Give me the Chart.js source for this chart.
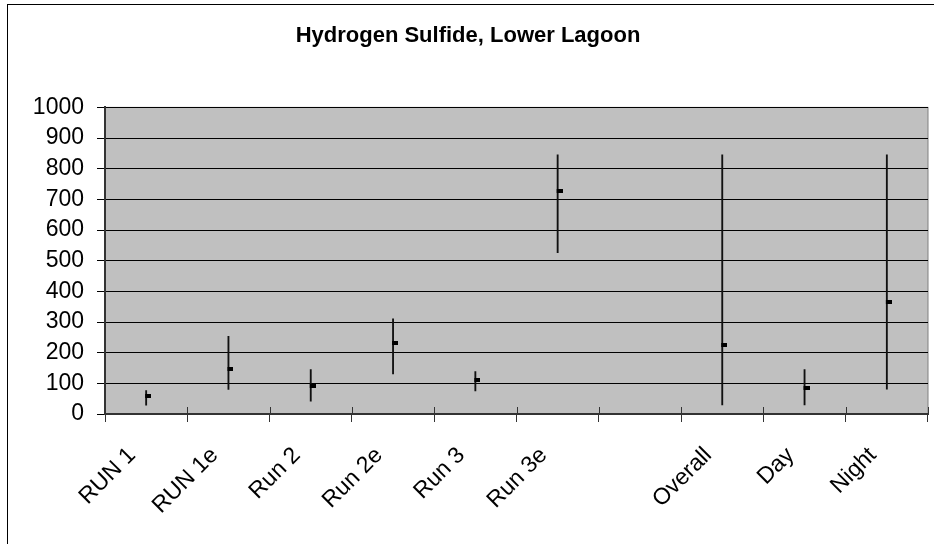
<!DOCTYPE html>
<html>
<head>
<meta charset="utf-8">
<script src="https://cdn.jsdelivr.net/npm/chart.js@4/dist/chart.umd.min.js"></script>
<style>
  html, body { margin: 0; padding: 0; background: #fff; }
  #wrap { width: 934px; height: 544px; position: relative; }
</style>
</head>
<body>
<div id="wrap"><canvas id="chart"></canvas></div>
<script>
// H2S readings per run: high, low and close
var categories = ["RUN 1", "RUN 1e", "Run 2", "Run 2e", "Run 3", "Run 3e", "", "Overall", "Day", "Night"];
var highValues = [76, 253, 145, 310, 138, 845, null, 845, 145, 845];
var lowValues = [29, 80, 42, 131, 75, 526, null, 30, 30, 81];
var closeValues = [60, 148, 92, 231, 110, 726, null, 225, 85, 364];
var yTicks = [0, 100, 200, 300, 400, 500, 600, 700, 800, 900, 1000];

var FONT = "'Liberation Sans', Arial, sans-serif";

var ranges = categories.map(function (c, i) {
    if (highValues[i] == null) return null;
    return [lowValues[i], highValues[i]];
});

// little close dash, sitting just right of the high-low line
var dash = document.createElement("canvas");
dash.width = 10;
dash.height = 4;
var dctx = dash.getContext("2d");
dctx.fillStyle = "#000";
dctx.fillRect(4, 0, 6, 4);

var plotFrame = {
    id: "plotFrame",
    beforeDraw: function (chart) {
        var ctx = chart.ctx, a = chart.chartArea;
        ctx.save();
        // outer chart border
        ctx.strokeStyle = "#000";
        ctx.lineWidth = 1;
        ctx.strokeRect(7.5, 4.5, 1000, 1000);
        // plot background
        ctx.fillStyle = "#c0c0c0";
        ctx.fillRect(a.left, a.top, a.right - a.left, a.bottom - a.top);
        ctx.strokeStyle = "#808080";
        ctx.strokeRect(a.left, a.top, a.right - a.left, a.bottom - a.top);
        ctx.restore();
    },
    afterDraw: function (chart) {
        // category tick marks also reach into the plot
        var ctx = chart.ctx, xs = chart.scales.x, a = chart.chartArea;
        var n = categories.length;
        ctx.save();
        ctx.strokeStyle = "#333";
        ctx.lineWidth = 1;
        for (var i = 0; i <= n; i++) {
            var x = Math.round(xs.left + i * (xs.width / n)) + 0.5;
            ctx.beginPath();
            ctx.moveTo(x, a.bottom - 7);
            ctx.lineTo(x, a.bottom);
            ctx.stroke();
        }
        ctx.restore();
    }
};

var config = {
    type: "bar",
    data: {
        labels: categories,
        datasets: [
            {
                label: "High-Low",
                data: ranges,
                backgroundColor: "#111",
                borderWidth: 0,
                barThickness: 1.2,
                grouped: false,
                order: 2
            },
            {
                type: "line",
                label: "Close",
                data: closeValues,
                showLine: false,
                pointStyle: dash,
                pointRadius: 4,
                order: 1
            }
        ]
    },
    options: {
        responsive: true,
        maintainAspectRatio: false,
        animation: false,
        layout: { padding: { left: 8, right: 6, top: 0, bottom: 0 } },
        plugins: {
            legend: { display: false },
            tooltip: { enabled: false },
            title: {
                display: true,
                text: "Hydrogen Sulfide, Lower Lagoon",
                color: "#000",
                font: { family: FONT, size: 22, weight: "bold" },
                padding: { top: 23, bottom: 58 }
            }
        },
        scales: {
            x: {
                offset: true,
                grid: {
                    offset: true,
                    drawOnChartArea: false,
                    color: "#333",
                    tickLength: 8
                },
                border: { color: "#333", width: 2 },
                ticks: {
                    color: "#000",
                    font: { family: FONT, size: 23 },
                    minRotation: 45,
                    maxRotation: 45,
                    padding: 20,
                    labelOffset: -14
                },
                afterFit: function (s) { s.height = 130; }
            },
            y: {
                min: 0,
                max: 1000,
                afterBuildTicks: function (s) {
                    s.ticks = yTicks.map(function (v) { return { value: v }; });
                },
                grid: {
                    color: "#000",
                    lineWidth: 1,
                    tickLength: 8
                },
                border: { color: "#333", width: 2 },
                ticks: {
                    color: "#000",
                    font: { family: FONT, size: 23 },
                    padding: 13,
                    callback: function (v) { return String(v); }
                },
                afterFit: function (s) { s.width = 97; }
            }
        }
    },
    plugins: [plotFrame]
};

new Chart(document.getElementById("chart").getContext("2d"), config);
</script>
</body>
</html>
